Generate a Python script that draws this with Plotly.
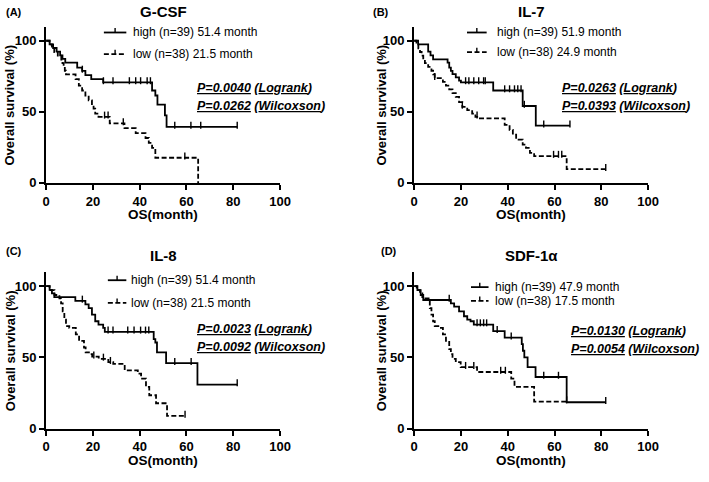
import plotly.graph_objects as go

# ---------------- data ----------------
x_ticks = [0, 20, 40, 60, 80, 100]
y_ticks = [0, 50, 100]

titles = ["G-CSF", "IL-7", "IL-8", "SDF-1α"]
tags = ["(A)", "(B)", "(C)", "(D)"]
high_labels = ["high (n=39) 51.4 month", "high (n=39) 51.9 month",
               "high (n=39) 51.4 month", "high (n=39) 47.9 month"]
low_labels = ["low (n=38) 21.5 month", "low (n=38) 24.9 month",
              "low (n=38) 21.5 month", "low (n=38) 17.5 month"]
p_logrank = ["0.0040", "0.0263", "0.0023", "0.0130"]
p_wilcoxon = ["0.0262", "0.0393", "0.0092", "0.0054"]

# G-CSF
gcsf_high_t = [0, 1.5, 3.0, 4.5, 6.0, 7.0, 8.2, 13.3, 15.4, 16.8, 19.3, 24.4, 45.3, 46.7, 47.6, 50.8, 51.5, 81.7]
gcsf_high_s = [100, 97.4, 94.9, 92.3, 89.7, 87.2, 84.6, 81.1, 78.8, 75.8, 73.0, 70.7, 65.0, 61.5, 55.1, 47.5, 39.4, 39.4]
gcsf_high_c = [15.5, 24.5, 28.6, 35.6, 38.3, 40.4, 43.2, 44.6, 55.0, 61.9, 66.1, 81.7]
gcsf_low_t = [0, 1.5, 2.5, 3.5, 5.0, 6.5, 7.0, 7.5, 8.0, 8.5, 12.6, 14.0, 15.4, 16.8, 18.2, 19.6, 20.3, 21.0,
              22.4, 27.2, 33.5, 38.3, 42.5, 43.9, 45.3, 46.7, 65.0]
gcsf_low_s = [100, 97.4, 94.7, 92.1, 89.5, 86.8, 84.2, 81.6, 78.9, 76.3, 73.0, 68.4, 65.0, 61.5, 58.1, 54.6, 52.3, 48.8,
              46.5, 41.9, 38.5, 35.0, 31.6, 28.1, 24.7, 17.7, 0]
gcsf_low_c = [25.0, 26.5, 33.0, 59.3]

# IL-7
il7_high_t = [0, 1.7, 6.0, 7.0, 8.1, 14.3, 15.0, 15.7, 16.4, 17.8, 19.2, 20.0, 33.8, 46.4, 52.0, 66.6]
il7_high_s = [100, 97.4, 92.3, 89.7, 86.9, 84.6, 81.1, 78.8, 76.5, 74.2, 71.9, 70.7, 65.0, 54.1, 40.3, 40.3]
il7_high_c = [22.0, 23.4, 25.5, 27.6, 29.7, 30.4, 38.7, 40.8, 42.9, 44.3, 45.7, 47.1, 55.4, 66.6]
il7_low_t = [0, 1.0, 1.8, 2.5, 3.2, 3.9, 4.6, 6.0, 7.4, 8.1, 8.8, 12.3, 13.6, 15.0, 16.4, 17.8, 19.2, 20.6, 22.7,
             24.8, 26.2, 27.6, 38.7, 40.8, 42.2, 43.6, 46.4, 47.8, 49.5, 51.3, 65.2, 81.9]
il7_low_s = [100, 97.4, 94.7, 92.1, 89.5, 86.8, 84.2, 81.6, 78.9, 76.3, 73.7, 71.1, 68.4, 65.8, 63.2, 60.5, 56.9,
             53.5, 51.2, 48.8, 46.5, 45.4, 40.8, 37.3, 33.9, 30.4, 27.0, 24.7, 21.2, 18.9, 9.7, 9.7]
il7_low_c = [8.8, 20.6, 26.9, 59.6, 61.7, 63.1, 81.9]

# IL-8
il8_high_t = [0, 1.5, 2.5, 3.5, 12.5, 16.8, 18.2, 19.6, 21.0, 22.4, 24.4, 25.1, 46.0, 46.7, 47.4, 51.3, 64.7, 81.7]
il8_high_s = [100, 97.4, 94.9, 92.3, 89.7, 87.2, 84.6, 80.0, 75.4, 73.1, 70.8, 68.0, 62.8, 60.5, 53.6, 46.0, 31.0, 31.0]
il8_high_c = [15.5, 26.5, 28.6, 34.9, 37.6, 40.4, 42.5, 43.9, 55.0, 62.0, 81.7]
il8_low_t = [0, 1.5, 3.6, 5.7, 6.4, 7.1, 7.8, 8.5, 9.9, 12.7, 14.1, 16.2, 16.9, 18.3, 19.7, 22.5, 26.6, 28.7,
             33.6, 39.2, 40.6, 42.7, 44.1, 47.0, 51.7, 59.4]
il8_low_s = [100, 97.2, 93.8, 91.5, 88.0, 82.3, 76.6, 72.0, 70.8, 66.2, 61.6, 57.0, 53.6, 52.4, 50.6, 49.0, 46.7,
             45.5, 40.9, 38.6, 35.2, 29.4, 23.5, 17.9, 9.0, 9.0]
il8_low_c = [20.4, 24.5, 27.5, 59.4]

# SDF-1alpha
sdf_high_t = [0, 1.4, 2.8, 3.9, 15.7, 17.1, 19.2, 21.3, 22.7, 24.1, 25.5, 33.8, 38.7, 46.0, 46.5, 47.1, 48.5, 51.9,
              65.2, 81.9]
sdf_high_s = [100, 97.2, 93.8, 90.3, 88.0, 85.7, 82.3, 78.9, 76.6, 75.4, 73.1, 68.5, 63.9, 59.3, 54.7, 50.1, 43.2,
              36.3, 18.6, 18.6]
sdf_high_c = [15.0, 26.9, 28.3, 29.7, 31.0, 35.5, 41.5, 55.4, 61.7, 81.9]
sdf_low_t = [0, 1.1, 2.5, 3.5, 6.7, 7.4, 8.1, 8.8, 10.9, 12.3, 13.6, 15.0, 15.7, 16.4, 17.8, 19.9, 26.9, 41.5,
             42.9, 51.3, 65.2]
sdf_low_s = [100, 97.2, 94.9, 91.5, 84.6, 80.0, 75.4, 72.0, 70.8, 66.2, 61.6, 55.9, 52.4, 49.0, 46.7, 43.2, 39.8,
             35.2, 29.4, 19.1, 19.1]
sdf_low_c = [22.0, 25.5, 37.0, 39.0, 65.2]

curves = [
    (gcsf_high_t, gcsf_high_s, gcsf_high_c, gcsf_low_t, gcsf_low_s, gcsf_low_c),
    (il7_high_t, il7_high_s, il7_high_c, il7_low_t, il7_low_s, il7_low_c),
    (il8_high_t, il8_high_s, il8_high_c, il8_low_t, il8_low_s, il8_low_c),
    (sdf_high_t, sdf_high_s, sdf_high_c, sdf_low_t, sdf_low_s, sdf_low_c),
]

# ---------------- layout geometry ----------------
W, H = 709, 482
FONT = "Liberation Sans, Arial, sans-serif"
DASH = "5px,2.5px"

x_dom_left = [43 / W, 282 / W]
x_dom_right = [419 / W, 658 / W]
y_dom_top = [(H - 186) / H, (H - 27) / H]
y_dom_bot = [(H - 436) / H, (H - 276.5) / H]
x_doms = [x_dom_left, x_dom_right, x_dom_left, x_dom_right]
y_doms = [y_dom_top, y_dom_top, y_dom_bot, y_dom_bot]

# legend/annotation positions in axis-domain fractions
leg_line = [(0.247, 0.343), (0.226, 0.31), (0.264, 0.343), (0.243, 0.318)]
leg_text_x = [0.364, 0.347, 0.356, 0.339]
leg_y = [(0.962, 0.824), (0.962, 0.836), (0.947, 0.802), (0.903, 0.815)]
p_pos = [(0.636, 0.604, 0.491), (0.623, 0.604, 0.491), (0.636, 0.633, 0.520), (0.661, 0.621, 0.508)]
title_y_px = [12, 12, 260, 260]
tag_x_px = [0, 375, 0, 383]
tag_y_px = [12, 12, 255, 255]
ytitle_x_px = [6, 386, 6, 386]
xtitle_y_px = [218, 218, 468, 468]


def surv_at(ts, ss, c):
    v = ss[0]
    for t, s in zip(ts, ss):
        if t <= c:
            v = s
    return v


fig = go.Figure()
shapes = []
annotations = []

for i in range(4):
    sfx = "" if i == 0 else str(i + 1)
    xa, ya = "x" + sfx, "y" + sfx
    ht, hs, hc, lt, ls, lc = curves[i]
    for ts, ss, cs, dash in [(ht, hs, hc, "solid"), (lt, ls, lc, DASH)]:
        fig.add_trace(go.Scatter(
            x=ts, y=ss, mode="lines", line=dict(color="black", width=1.8, shape="hv", dash=dash),
            xaxis=xa, yaxis=ya, showlegend=False, cliponaxis=False, hoverinfo="skip"))
        fig.add_trace(go.Scatter(
            x=cs, y=[surv_at(ts, ss, c) + 1.2 for c in cs], mode="markers",
            marker=dict(symbol="line-ns", size=5, color="black", line=dict(color="black", width=1.4)),
            xaxis=xa, yaxis=ya, showlegend=False, cliponaxis=False, hoverinfo="skip"))

    axis_common = dict(showline=True, linewidth=2, linecolor="black", ticks="outside", ticklen=5,
                       tickwidth=2, tickcolor="black", showgrid=False, zeroline=False,
                       tickfont=dict(family=FONT, size=13, color="black"))
    fig.layout["xaxis" + sfx] = dict(domain=x_doms[i], range=[0, 100], tickvals=x_ticks,
                                     ticktext=[f"<b>{v}</b>" for v in x_ticks],
                                     anchor=ya, **axis_common)
    fig.layout["yaxis" + sfx] = dict(domain=y_doms[i], range=[0, 110], tickvals=y_ticks,
                                     ticktext=[f"<b>{v}</b>" for v in y_ticks],
                                     anchor=xa, **axis_common)

    xd, yd = xa + " domain", ya + " domain"
    x0, x1 = leg_line[i]
    for k, lab in enumerate([high_labels[i], low_labels[i]]):
        yy = leg_y[i][k]
        shapes.append(dict(type="line", xref=xd, yref=yd, x0=x0, x1=x1, y0=yy, y1=yy,
                           line=dict(color="black", width=1.8, dash="solid" if k == 0 else DASH)))
        xm = (x0 + x1) / 2
        shapes.append(dict(type="line", xref=xd, yref=yd, x0=xm, x1=xm, y0=yy, y1=yy + 0.028,
                           line=dict(color="black", width=1.4)))
        annotations.append(dict(xref=xd, yref=yd, x=leg_text_x[i], y=yy, text=lab, showarrow=False,
                                xanchor="left", yanchor="middle",
                                font=dict(family=FONT, size=12, color="black")))

    px, py1, py2 = p_pos[i]
    annotations.append(dict(xref=xd, yref=yd, x=px, y=py1, showarrow=False, xanchor="left", yanchor="middle",
                            text=f"<b><i><u>P={p_logrank[i]}</u> (<u>Logrank</u>)</i></b>",
                            font=dict(family=FONT, size=12.5, color="black")))
    annotations.append(dict(xref=xd, yref=yd, x=px, y=py2, showarrow=False, xanchor="left", yanchor="middle",
                            text=f"<b><i><u>P={p_wilcoxon[i]}</u> (<u>Wilcoxson</u>)</i></b>",
                            font=dict(family=FONT, size=12.5, color="black")))

    annotations.append(dict(xref="paper", yref="paper", x=sum(x_doms[i]) / 2, y=(H - title_y_px[i]) / H,
                            text=f"<b>{titles[i]}</b>", showarrow=False, xanchor="center", yanchor="middle",
                            font=dict(family=FONT, size=15, color="black")))
    annotations.append(dict(xref="paper", yref="paper", x=tag_x_px[i] / W, y=(H - tag_y_px[i]) / H,
                            text=f"<b>{tags[i]}</b>", showarrow=False, xanchor="left", yanchor="middle",
                            font=dict(family=FONT, size=11, color="black")))
    annotations.append(dict(xref="paper", yref="paper", x=ytitle_x_px[i] / W, y=sum(y_doms[i]) / 2,
                            text="<b>Overall survival (%)</b>", textangle=-90, showarrow=False,
                            xanchor="center", yanchor="middle",
                            font=dict(family=FONT, size=13, color="black")))
    annotations.append(dict(xref="paper", yref="paper", x=sum(x_doms[i]) / 2, y=(H - xtitle_y_px[i]) / H,
                            text="<b>OS(month)</b>", showarrow=False, xanchor="center", yanchor="middle",
                            font=dict(family=FONT, size=13.5, color="black")))

fig.update_layout(width=W, height=H, autosize=False, margin=dict(l=0, r=0, t=0, b=0),
                  paper_bgcolor="white", plot_bgcolor="white", shapes=shapes, annotations=annotations,
                  font=dict(family=FONT, color="black"))

fig.write_html("out.html", config={"displayModeBar": False},
               post_script="document.body.style.margin='0px';document.body.style.overflow='hidden';")
